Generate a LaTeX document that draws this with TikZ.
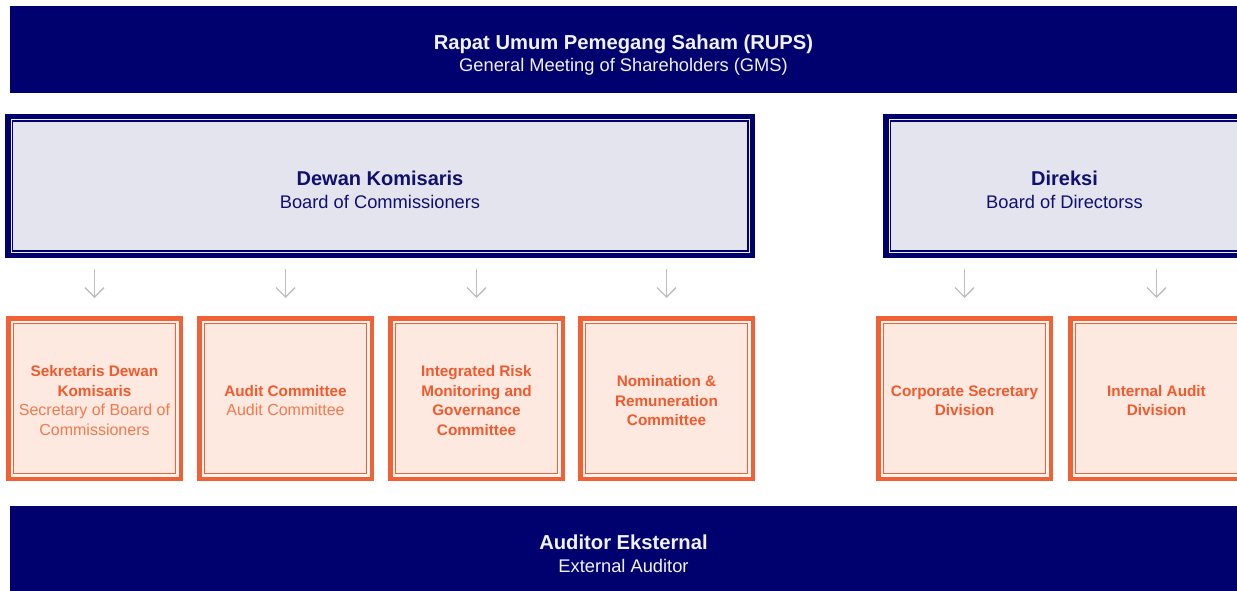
\documentclass[tikz,border=0pt]{standalone}
\usepackage{fontspec}
\setmainfont{Liberation Sans}
\usepackage{xcolor}
\usetikzlibrary{arrows.meta,positioning}
\definecolor{navy}{HTML}{00006F}
\definecolor{navytext}{HTML}{10106E}
\definecolor{bartext}{HTML}{F2F2FA}
\definecolor{lav}{HTML}{E4E4EF}
\definecolor{lavgap}{HTML}{EEEEF5}
\definecolor{orng}{HTML}{F26135}
\definecolor{orngtext}{HTML}{F05A2E}
\definecolor{orngsub}{HTML}{F2794F}
\definecolor{peach}{HTML}{FDE9DF}
\definecolor{peachgap}{HTML}{FEF5F0}
\definecolor{arrowgray}{HTML}{BDBDC2}
\newcommand{\unitsub}{\fontsize{16}{19.5}\selectfont\mdseries\color{orngsub}}
\newcommand{\subline}{\fontsize{18.3}{22.5}\selectfont\mdseries}
\newcommand{\lift}[1]{\rule{0pt}{#1}}

\begin{document}
\begin{tikzpicture}[
    x=1pt, y=-1pt,
    bar/.style={fill=navy, inner sep=0pt, minimum width=1227pt, align=center, text=bartext,
        font=\fontsize{20.2}{22.5}\selectfont\bfseries},
    board/.style={draw=navy, line width=5.5pt, fill=lavgap, inner sep=0pt, minimum height=138.5pt, align=center, text=navytext,
        font=\fontsize{20}{23}\selectfont\bfseries,
        path picture={\draw[navy, line width=1.5pt, fill=lav]
            ([shift={(4.5pt,-4.5pt)}]path picture bounding box.north west) rectangle
            ([shift={(-4.5pt,4.5pt)}]path picture bounding box.south east);}},
    unit/.style={draw=orng, line width=4.5pt, fill=peachgap, inner sep=0pt, minimum width=172.5pt, minimum height=160.5pt,
        align=center, text=orngtext, font=\fontsize{15.3}{19.5}\selectfont\bfseries,
        path picture={\draw[orng, line width=1.4pt, fill=peach]
            ([shift={(5.2pt,-5.2pt)}]path picture bounding box.north west) rectangle
            ([shift={(-5.2pt,5.2pt)}]path picture bounding box.south east);}},
    arr/.style={-{Straight Barb[length=9.5pt, width=19pt, line width=1.3pt]}, line width=1.3pt, arrowgray,
        shorten <=11pt, shorten >=18pt}
]
\useasboundingbox (0,0) rectangle (1237,591);
\clip (0,0) rectangle (1237,591);

% shareholders and auditor
\node[bar, minimum height=87pt] (rups) at (623.5,49.5)
    {\lift{26pt}Rapat Umum Pemegang Saham (RUPS)\\\subline General Meeting of Shareholders (GMS)};
\node[bar, minimum height=87pt] (auditor) at (623.5,549.5)
    {\lift{23pt}Auditor Eksternal\\\subline External Auditor};

% boards
\node[board, minimum width=744.5pt] (dekom) at (380,186)
    {\lift{23pt}Dewan Komisaris\\\subline Board of Commissioners};
\node[board, minimum width=357.5pt] (direksi) at (1064.5,186)
    {\lift{23pt}Direksi\\\subline Board of Directorss};

% committees and divisions
\node[unit] (sekdekom) at (94.5,398.5)
    {\lift{15.5pt}Sekretaris Dewan\\Komisaris\\\unitsub Secretary of Board of\\\unitsub Commissioners};
\node[unit] (audit) at (285.5,398.5)
    {\lift{15.5pt}Audit Committee\\\unitsub Audit Committee};
\node[unit] (risk) at (476.5,398.5)
    {\lift{15.5pt}Integrated Risk\\Monitoring and\\Governance\\Committee};
\node[unit] (nomrem) at (666.5,398.5)
    {\lift{15.5pt}Nomination \&\\Remuneration\\Committee};
\node[unit] (corsec) at (964.5,398.5)
    {\lift{15.5pt}Corporate Secretary\\Division};
\node[unit] (intaudit) at (1156.5,398.5)
    {\lift{15.5pt}Internal Audit\\Division};

\foreach \u in {sekdekom,audit,risk,nomrem}
    \draw[arr] (\u.north |- dekom.south) -- (\u.north);
\foreach \u in {corsec,intaudit}
    \draw[arr] (\u.north |- direksi.south) -- (\u.north);

\end{tikzpicture}
\end{document}
